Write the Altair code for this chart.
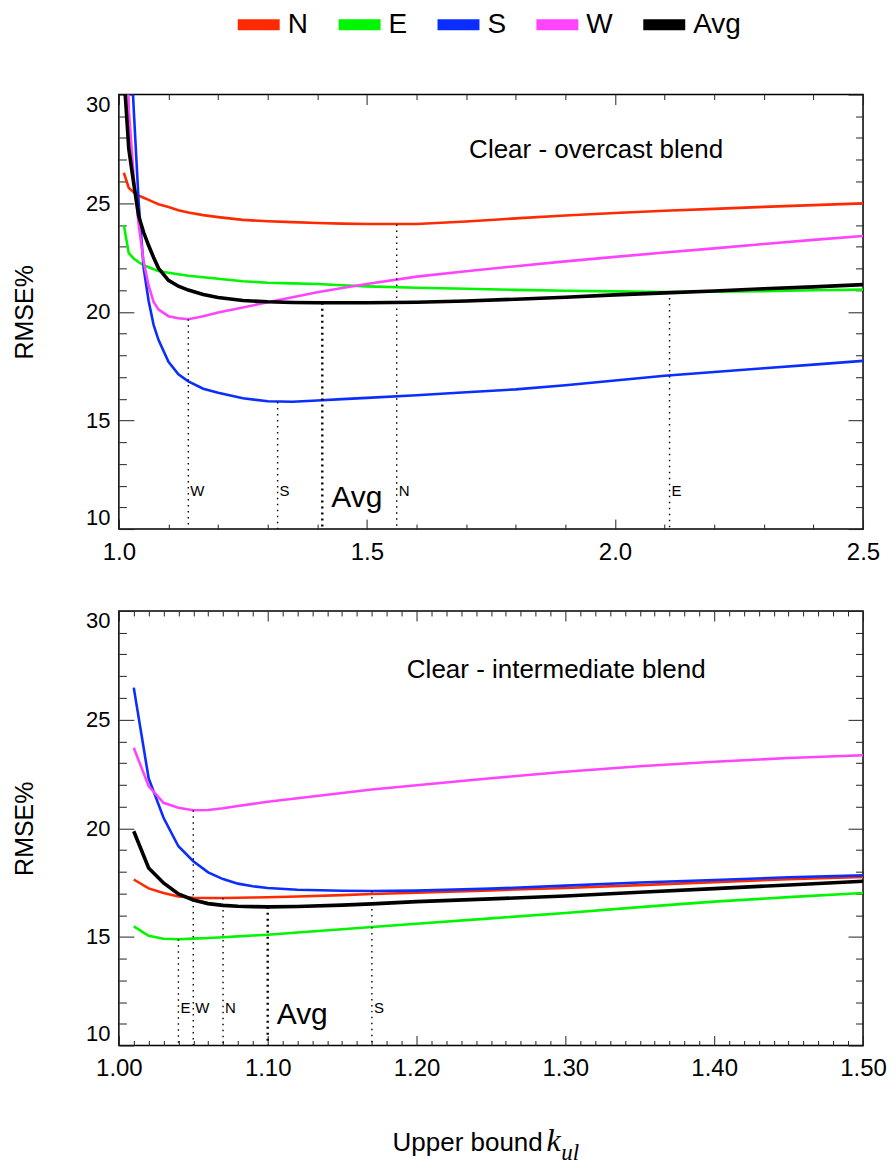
import altair as alt
import pandas as pd

FONT = "Liberation Sans"
SERIF = "Liberation Serif"

series_names = ["N", "E", "S", "W", "Avg"]
series_colors = ["#ff2a00", "#00f500", "#0a2eff", "#ff44ff", "#000000"]

# ---------- top panel: clear - overcast blend ----------
top_k = [1.01, 1.02, 1.03, 1.04, 1.05, 1.06, 1.07, 1.08, 1.10, 1.12, 1.14, 1.17,
         1.20, 1.25, 1.30, 1.35, 1.40, 1.45, 1.50, 1.60, 1.70, 1.80, 1.90, 2.00,
         2.10, 2.20, 2.30, 2.40, 2.50]
top_N = [26.40, 25.70, 25.50, 25.35, 25.25, 25.15, 25.05, 24.95, 24.82, 24.68, 24.57, 24.45,
         24.36, 24.23, 24.17, 24.13, 24.09, 24.06, 24.04, 24.04, 24.16, 24.30, 24.43, 24.55,
         24.65, 24.74, 24.83, 24.91, 24.99]
top_E = [23.99, 22.70, 22.45, 22.28, 22.15, 22.05, 21.96, 21.88, 21.80, 21.73, 21.66, 21.59,
         21.52, 21.41, 21.34, 21.31, 21.28, 21.22, 21.17, 21.11, 21.06, 21.01, 20.97, 20.94,
         20.91, 20.92, 20.95, 20.99, 21.02]
top_S = [42.0, 34.0, 29.3, 25.0, 22.0, 20.5, 19.4, 18.7, 17.7, 17.12, 16.80, 16.46,
         16.27, 16.02, 15.88, 15.86, 15.92, 15.98, 16.04, 16.16, 16.30, 16.43, 16.62, 16.84,
         17.06, 17.23, 17.40, 17.57, 17.74]
top_W = [38.0, 29.3, 26.2, 24.0, 22.3, 21.2, 20.45, 20.10, 19.80, 19.70, 19.66, 19.80,
         19.97, 20.20, 20.44, 20.67, 20.90, 21.10, 21.28, 21.62, 21.87, 22.10, 22.32, 22.53,
         22.73, 22.92, 23.12, 23.31, 23.49]
top_Avg = [31.0, 27.5, 25.9, 24.4, 23.65, 23.05, 22.5, 22.0, 21.45, 21.18, 21.00, 20.80,
           20.66, 20.52, 20.46, 20.43, 20.42, 20.42, 20.42, 20.44, 20.50, 20.58, 20.67, 20.78,
           20.87, 20.96, 21.06, 21.15, 21.25]
top_marker_k = [1.56, 2.11, 1.32, 1.14, 1.41]
top_marker_min = [24.02, 20.91, 15.85, 19.66, 20.42]
top_note = ["Clear - overcast blend"]
top_note_k = [1.706]
top_note_v = [27.06]

# ---------- bottom panel: clear - intermediate blend ----------
bot_k = [1.01, 1.02, 1.03, 1.04, 1.05, 1.06, 1.07, 1.08, 1.09, 1.10, 1.12, 1.15, 1.17,
         1.20, 1.25, 1.30, 1.35, 1.40, 1.45, 1.50]
bot_N = [17.64, 17.23, 17.02, 16.86, 16.80, 16.79, 16.79, 16.80, 16.81, 16.82, 16.86, 16.92,
         16.97, 17.03, 17.14, 17.25, 17.38, 17.52, 17.65, 17.76]
bot_E = [15.48, 15.05, 14.91, 14.89, 14.92, 14.95, 14.98, 15.02, 15.06, 15.10, 15.20, 15.35,
         15.45, 15.60, 15.85, 16.10, 16.37, 16.62, 16.83, 17.02]
bot_S = [26.47, 22.30, 20.48, 19.17, 18.48, 17.97, 17.66, 17.45, 17.33, 17.25, 17.17, 17.12,
         17.11, 17.13, 17.22, 17.36, 17.50, 17.62, 17.74, 17.83]
bot_W = [23.70, 21.94, 21.17, 20.94, 20.83, 20.84, 20.92, 21.02, 21.12, 21.22, 21.38, 21.62,
         21.78, 21.98, 22.30, 22.60, 22.85, 23.06, 23.23, 23.36]
bot_Avg = [19.86, 18.17, 17.48, 16.98, 16.70, 16.53, 16.45, 16.41, 16.39, 16.38, 16.40, 16.46,
           16.52, 16.62, 16.75, 16.88, 17.05, 17.22, 17.39, 17.56]
bot_marker_k = [1.07, 1.04, 1.17, 1.05, 1.10]
bot_marker_min = [16.79, 14.89, 17.11, 20.83, 16.38]
bot_note = ["Clear - intermediate blend"]
bot_note_k = [1.1935]
bot_note_v = [26.9]

marker_label_v = 11.5
avg_label_v = 11.0
y_floor = 10

# tick values
y_ticks = list(range(10, 31))
top_x_ticks = [round(1.0 + 0.1 * i, 2) for i in range(16)]
bot_x_ticks = [round(1.0 + 0.01 * i, 2) for i in range(51)]

W, H = 745, 435

color_enc = alt.Color(
    "series:N",
    scale=alt.Scale(domain=series_names, range=series_colors),
    legend=alt.Legend(
        orient="none", legendX=124, legendY=-86, direction="horizontal", title=None,
        symbolType="M-2,0L2,0", symbolSize=441, symbolStrokeWidth=11,
        labelFontSize=28, labelFont=FONT, labelColor="black", labelOffset=13,
        columnPadding=8,
    ),
)


def long_df(k, cols):
    rows = []
    for name, vals in zip(series_names, cols):
        for kk, v in zip(k, vals):
            rows.append({"k": kk, "value": v, "series": name})
    return pd.DataFrame(rows)


def panel(k, cols, xdomain, xticks, mult, fmt, mk, mmin, note, note_k, note_v, extra=()):
    xs = alt.Scale(domain=xdomain, nice=False, zero=False)
    ys = alt.Scale(domain=[10, 30], nice=False, zero=False)
    major_x = f"abs(datum.value*{mult} - round(datum.value*{mult})) < 0.001"
    major_y = "datum.value % 5 == 0"
    common = dict(domain=False, grid=False, tickColor="#222", tickWidth=1)
    x_main = alt.Axis(orient="bottom", values=xticks, title=None,
                      tickSize={"expr": f"{major_x} ? -10 : -5"},
                      labelExpr=f"{major_x} ? format(datum.value, '{fmt}') : ''",
                      labelFontSize=24, labelFont=FONT, labelColor="black",
                      labelPadding=21, labelFlush=False, labelOverlap=False, **common)
    y_main = alt.Axis(orient="left", values=y_ticks, title="RMSE%",
                      tickSize={"expr": f"{major_y} ? -15 : -7.5"},
                      labelExpr=f"{major_y} ? datum.label : ''",
                      labelFontSize=22, labelFont=FONT, labelColor="black",
                      labelPadding=24, labelFlush=True, labelOverlap=False,
                      titleFont=FONT, titleFontSize=25, titleFontWeight="normal",
                      titleColor="black", titlePadding=48, **common)
    x_mirror = alt.Axis(orient="top", values=xticks, title=None, labels=False,
                        tickSize={"expr": f"{major_x} ? -10 : -5"}, **common)
    y_mirror = alt.Axis(orient="right", values=y_ticks, title=None, labels=False,
                        tickSize={"expr": f"{major_y} ? -15 : -7.5"}, **common)

    df = long_df(k, cols)
    base = alt.Chart(df)
    lines = base.transform_filter("datum.series != 'Avg'").mark_line(
        strokeWidth=2.6, clip=True).encode(
        x=alt.X("k:Q", scale=xs, axis=x_main),
        y=alt.Y("value:Q", scale=ys, axis=y_main),
        color=color_enc,
    )
    avg = base.transform_filter("datum.series == 'Avg'").mark_line(
        strokeWidth=3.6, clip=True).encode(
        x=alt.X("k:Q", scale=xs, axis=None),
        y=alt.Y("value:Q", scale=ys, axis=None),
        color=color_enc,
    )
    mdf = pd.DataFrame({"k": mk, "vmin": mmin, "series": series_names,
                        "floor": [y_floor] * 5,
                        "ly": [marker_label_v] * 4 + [avg_label_v]})
    mbase = alt.Chart(mdf)
    mrules = mbase.transform_filter("datum.series != 'Avg'").mark_rule(
        color="black", strokeWidth=1.4, strokeDash=[1.5, 4.5]).encode(
        x=alt.X("k:Q", scale=xs, axis=x_mirror),
        y=alt.Y("vmin:Q", scale=ys, axis=y_mirror),
        y2="floor:Q",
    )
    mrule_avg = mbase.transform_filter("datum.series == 'Avg'").mark_rule(
        color="black", strokeWidth=2.4, strokeDash=[2, 4]).encode(
        x=alt.X("k:Q", scale=xs, axis=None),
        y=alt.Y("vmin:Q", scale=ys, axis=None),
        y2="floor:Q",
    )
    mlabels = mbase.transform_filter("datum.series != 'Avg'").mark_text(
        align="left", baseline="alphabetic", dx=2, fontSize=15, font=FONT, color="black").encode(
        x=alt.X("k:Q", scale=xs, axis=None),
        y=alt.Y("ly:Q", scale=ys, axis=None),
        text="series:N",
    )
    mlabel_avg = mbase.transform_filter("datum.series == 'Avg'").mark_text(
        align="left", baseline="alphabetic", dx=9, fontSize=30, font=FONT, color="black").encode(
        x=alt.X("k:Q", scale=xs, axis=None),
        y=alt.Y("ly:Q", scale=ys, axis=None),
        text="series:N",
    )
    ndf = pd.DataFrame({"k": note_k, "v": note_v, "t": note})
    notes = alt.Chart(ndf).mark_text(
        align="left", baseline="alphabetic", fontSize=26, font=FONT, color="black").encode(
        x=alt.X("k:Q", scale=xs, axis=None),
        y=alt.Y("v:Q", scale=ys, axis=None),
        text="t:N",
    )
    return alt.layer(lines, avg, mrules, mrule_avg, mlabels, mlabel_avg, notes, *extra).properties(
        width=W, height=H)


one = pd.DataFrame({"t": [0]})
xt1 = alt.Chart(one).mark_text(text="Upper bound", font=FONT, fontSize=26, align="left",
                               baseline="alphabetic", color="black").encode(
    x=alt.value(274), y=alt.value(541))
xt2 = alt.Chart(one).mark_text(text="k", font=SERIF, fontStyle="italic", fontSize=32, align="left",
                               baseline="alphabetic", color="black").encode(
    x=alt.value(428), y=alt.value(541))
xt3 = alt.Chart(one).mark_text(text="ul", font=SERIF, fontStyle="italic", fontSize=23, align="left",
                               baseline="alphabetic", color="black").encode(
    x=alt.value(443), y=alt.value(550))

top = panel(top_k, [top_N, top_E, top_S, top_W, top_Avg], [1.0, 2.5], top_x_ticks, 2, ".1f",
            top_marker_k, top_marker_min, top_note, top_note_k, top_note_v)
bottom = panel(bot_k, [bot_N, bot_E, bot_S, bot_W, bot_Avg], [1.0, 1.5], bot_x_ticks, 10, ".2f",
               bot_marker_k, bot_marker_min, bot_note, bot_note_k, bot_note_v,
               extra=(xt1, xt2, xt3))

chart = alt.vconcat(top, bottom, spacing=39).properties(
    padding={"left": 3, "top": 0, "right": 0, "bottom": 0}
).configure(font=FONT).configure_view(stroke="black", strokeWidth=1.5)

chart.save("out.html", embed_options={"renderer": "svg", "actions": False})
